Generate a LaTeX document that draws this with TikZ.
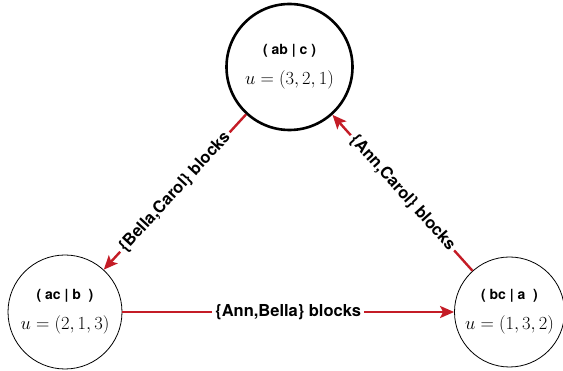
\documentclass[tikz,border=0pt]{standalone}
\usepackage{amsmath}
\usepackage{fix-cm}
\usepackage{fontspec}
\usepackage{tikz}
\usetikzlibrary{positioning}
\usetikzlibrary{calc}
\usetikzlibrary{arrows.meta}
\newfontfamily\labelfont{TeX Gyre Heros}
\definecolor{blockred}{RGB}{196,28,38}
\newcommand{\statetitle}[1]{{\labelfont\bfseries\fontsize{14}{16}\selectfont #1}}
\newcommand{\stateutil}[1]{{\fontsize{18.5}{21}\selectfont$u=(#1)$}}

\begin{document}
\begin{tikzpicture}[x=1pt,y=-1pt,
    state/.style={draw, circle, line width=0.8pt, align=center, inner sep=0pt},
    blockarrow/.style={draw=blockred, line width=2.4pt, -{Stealth[length=14pt,width=12pt,inset=3pt]}},
    blocklabel/.style={fill=white, inner sep=3pt, font=\labelfont\bfseries\fontsize{16.5}{19}\selectfont}]
  \useasboundingbox (0,0) rectangle (563,371);
  \node[state, line width=2.6pt, minimum size=126pt](ab_c) at (289.5,67)
    {\statetitle{( ab | c )}\\[12pt]\stateutil{3,2,1}};
  \node[state, minimum size=114pt](ac_b) at ([xshift=-224.5pt,yshift=-245pt]ab_c)
    {\statetitle{( ac | b~ )}\\[12pt]\stateutil{2,1,3}};
  \node[state, minimum size=110pt](bc_a) at ([xshift=220pt,yshift=-245pt]ab_c)
    {\statetitle{( bc | a~ )}\\[12pt]\stateutil{1,3,2}};

  \draw[blockarrow] (ac_b) -- node[blocklabel]{\{Ann,Bella\} blocks} (bc_a);
  \draw[blockarrow] (ab_c) -- node[blocklabel, sloped]{\{Bella,Carol\} blocks} (ac_b);
  \draw[blockarrow] (bc_a) -- node[blocklabel, sloped]{\{Ann,Carol\} blocks} (ab_c);
\end{tikzpicture}
\end{document}
